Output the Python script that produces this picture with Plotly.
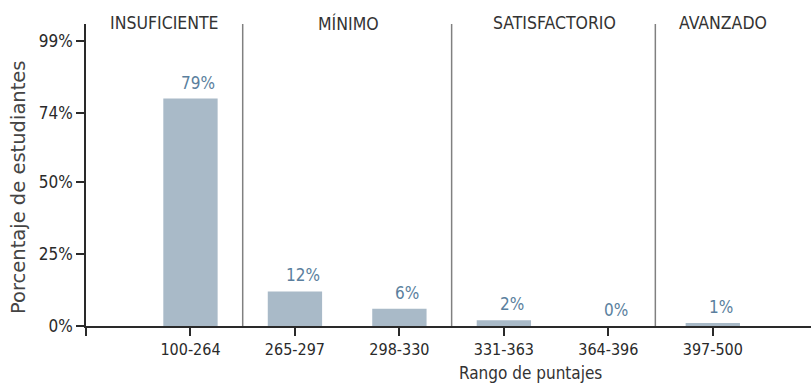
import plotly.graph_objects as go

# Score ranges and share of students in each
ranges = ["100-264", "265-297", "298-330", "331-363", "364-396", "397-500"]
percent = [79, 12, 6, 2, 0, 1]

# Performance levels: name, label position (category units), right boundary
levels = ["INSUFICIENTE", "MÍNIMO", "SATISFACTORIO", "AVANZADO"]
level_label_x = [-0.25, 1.51, 3.48, 5.1]
level_bounds = [0.5, 2.5, 4.45]

y_ticks = [0, 25, 50, 74, 99]

COND = "DejaVu Sans Condensed, DejaVu Sans, sans-serif"
BAR = "#a9bac8"
VAL = "#5b7f9e"
INK = "#2a2a2a"

# plot area in pixels, used to place the axis titles
W, H = 811, 383
ML, MR, MT, MB = 86, 0, 24, 57
PW, PH = W - ML - MR, H - MT - MB


def px_to_paper(px, py):
    return (px - ML) / PW, (H - MB - py) / PH


xs = list(range(len(ranges)))

fig = go.Figure(
    go.Bar(
        x=xs,
        y=percent,
        width=0.52,
        marker=dict(color=BAR, line=dict(width=0)),
        hoverinfo="skip",
    )
)

# value labels above bars
for x, v in zip(xs, percent):
    fig.add_annotation(
        x=x, y=v, text=f"{v}%", showarrow=False,
        xanchor="center", yanchor="bottom", xshift=8, yshift=4,
        font=dict(family=COND, size=17, color=VAL),
    )

# level separators
for b in level_bounds:
    fig.add_shape(
        type="line", xref="x", yref="paper", x0=b, x1=b, y0=0, y1=1,
        line=dict(color="#808080", width=1.5), layer="below",
    )

# level names
for name, lx in zip(levels, level_label_x):
    fig.add_annotation(
        x=lx, y=1, xref="x", yref="paper", text=name, showarrow=False,
        xanchor="center", yanchor="middle", yshift=1,
        font=dict(family=COND, size=17.5, color="#333333"),
    )

# axis titles
tx, ty = px_to_paper(530, 373)
fig.add_annotation(
    x=tx, y=ty, xref="paper", yref="paper", text="Rango de puntajes",
    xanchor="center", yanchor="middle", showarrow=False,
    font=dict(family=COND, size=17, color="#333333"),
)
tx, ty = px_to_paper(18, 187)
fig.add_annotation(
    x=tx, y=ty, xref="paper", yref="paper", text="Porcentaje de estudiantes",
    textangle=-90, xanchor="center", yanchor="middle", showarrow=False,
    font=dict(family="DejaVu Sans, sans-serif", size=19.5, color="#444444"),
)

fig.update_layout(
    width=W, height=H,
    margin=dict(l=ML, r=MR, t=MT, b=MB),
    paper_bgcolor="white", plot_bgcolor="white",
    showlegend=False,
    xaxis=dict(
        range=[-1, 5.94],
        tickvals=[-1] + xs, ticktext=[""] + ranges,
        ticks="outside", ticklen=8, tickwidth=1.5, tickcolor=INK,
        showline=True, linecolor=INK, linewidth=1.5,
        showgrid=False, zeroline=False,
        tickfont=dict(family=COND, size=16, color=INK),
    ),
    yaxis=dict(
        range=[0, 104.9],
        tickvals=y_ticks, ticktext=[f"{t}%" for t in y_ticks],
        ticks="outside", ticklen=8, tickwidth=1.5, tickcolor=INK,
        showline=True, linecolor=INK, linewidth=1.5,
        showgrid=False, zeroline=False,
        tickfont=dict(family=COND, size=17, color=INK),
    ),
)

fig.write_html("out.html")
